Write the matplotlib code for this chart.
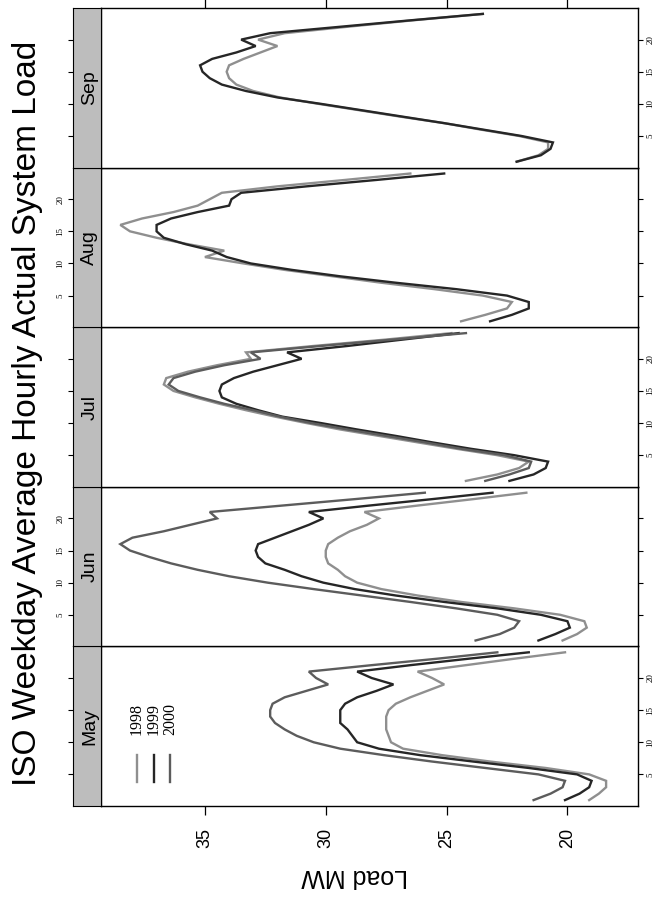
import matplotlib
matplotlib.use('Agg')
import matplotlib.pyplot as plt

plt.rcParams['font.family'] = ['Liberation Sans', 'DejaVu Sans']

title = 'ISO Weekday Average Hourly Actual System Load'
ylabel = 'Load MW'
months = ['May', 'Jun', 'Jul', 'Aug', 'Sep']
years = ['1998', '1999', '2000']
hours = list(range(1, 25))
load_ticks = [20, 25, 30, 35]
hour_ticks = [5, 10, 15, 20]

may_1998 = [19.1, 18.7, 18.4, 18.4, 19.1, 20.9, 23.2, 25.2, 26.8, 27.3, 27.4, 27.5, 27.5, 27.5, 27.4, 27.1, 26.5, 25.8, 25.1, 25.6, 26.2, 24.2, 22.2, 20.1]
may_1999 = [20.1, 19.5, 19.1, 19.0, 19.6, 21.6, 23.9, 26.1, 27.8, 28.7, 28.9, 29.1, 29.4, 29.4, 29.4, 29.2, 28.7, 27.9, 27.2, 28.1, 28.7, 26.5, 24.1, 21.6]
may_2000 = [21.4, 20.7, 20.2, 20.1, 21.2, 23.4, 25.6, 27.6, 29.4, 30.5, 31.2, 31.7, 32.1, 32.3, 32.3, 32.2, 31.7, 30.8, 29.9, 30.4, 30.7, 28.1, 25.4, 22.9]

jun_1998 = [20.2, 19.6, 19.2, 19.3, 20.3, 22.2, 24.4, 26.2, 27.7, 28.7, 29.2, 29.5, 29.9, 30.0, 30.0, 29.9, 29.5, 29.0, 28.3, 27.8, 28.4, 26.2, 23.9, 21.7]
jun_1999 = [21.2, 20.5, 19.9, 20.0, 21.1, 22.9, 25.1, 27.1, 28.8, 30.1, 31.0, 31.7, 32.5, 32.8, 32.9, 32.8, 32.1, 31.4, 30.7, 30.1, 30.7, 28.2, 25.6, 23.1]
jun_2000 = [23.8, 22.8, 22.2, 22.0, 22.9, 24.6, 26.5, 28.5, 30.5, 32.4, 34.0, 35.3, 36.4, 37.3, 38.1, 38.5, 38.0, 36.7, 35.6, 34.5, 34.8, 31.8, 28.8, 25.9]

jul_1998 = [24.2, 22.9, 22.0, 21.6, 22.9, 24.6, 26.2, 27.8, 29.4, 30.8, 32.1, 33.3, 34.4, 35.4, 36.3, 36.7, 36.6, 35.7, 34.5, 33.1, 33.3, 30.5, 27.5, 24.8]
jul_1999 = [22.4, 21.4, 20.9, 20.8, 22.2, 24.0, 25.6, 27.1, 28.7, 30.2, 31.8, 32.8, 33.7, 34.3, 34.4, 34.3, 33.8, 33.0, 32.0, 31.0, 31.6, 29.1, 26.8, 24.5]
jul_2000 = [23.4, 22.4, 21.6, 21.5, 22.6, 24.4, 25.9, 27.5, 29.1, 30.6, 31.9, 33.0, 34.2, 35.2, 36.1, 36.5, 36.3, 35.4, 34.2, 32.7, 33.1, 30.2, 27.2, 24.2]

aug_1998 = [24.4, 23.4, 22.5, 22.3, 23.5, 25.5, 27.7, 29.7, 31.7, 33.4, 35.0, 34.2, 35.7, 37.0, 38.1, 38.5, 37.6, 36.3, 35.3, 34.8, 34.3, 32.0, 29.2, 26.5]
aug_1999 = [23.2, 22.3, 21.6, 21.6, 22.5, 24.6, 27.1, 29.4, 31.4, 33.1, 34.1, 34.7, 35.8, 36.7, 37.0, 37.0, 36.4, 35.3, 34.0, 33.9, 33.5, 30.8, 27.9, 25.1]

sep_1998 = [22.1, 21.2, 20.8, 20.8, 22.0, 23.6, 25.1, 26.9, 28.6, 30.3, 31.9, 33.0, 33.7, 34.0, 34.1, 34.0, 33.4, 32.7, 32.0, 32.8, 31.7, 29.1, 26.4, 23.5]
sep_1999 = [22.1, 21.1, 20.7, 20.6, 21.9, 23.5, 25.1, 26.8, 28.5, 30.2, 32.0, 33.3, 34.3, 34.8, 35.1, 35.2, 34.7, 33.7, 32.9, 33.5, 32.3, 29.4, 26.5, 23.5]

series = {
    'May': {'1998': may_1998, '1999': may_1999, '2000': may_2000},
    'Jun': {'1998': jun_1998, '1999': jun_1999, '2000': jun_2000},
    'Jul': {'1998': jul_1998, '1999': jul_1999, '2000': jul_2000},
    'Aug': {'1998': aug_1998, '1999': aug_1999},
    'Sep': {'1998': sep_1998, '1999': sep_1999},
}
colors = {'1998': '#8f8f8f', '1999': '#262626', '2000': '#5c5c5c'}

W_PX, H_PX = 655, 899
fig = plt.figure(figsize=(W_PX / 100, H_PX / 100), dpi=100)

left = 101 / W_PX
width = 537 / W_PX
sleft = 73 / W_PX
swidth = 28 / W_PX
bottom0 = 1 - 806 / H_PX
ph = (806 - 8) / H_PX / len(months)

for i, m in enumerate(months):
    b = bottom0 + i * ph
    ax = fig.add_axes([left, b, width, ph])
    sax = fig.add_axes([sleft, b, swidth, ph])

    for y, vals in series[m].items():
        ax.plot(vals, hours, color=colors[y], lw=1.7, solid_joinstyle='miter')

    ax.set_xlim(39.30, 17.08)
    ax.set_ylim(0.08, 24.92)
    for s in ax.spines.values():
        s.set_linewidth(1.0)
        s.set_color('black')

    # hour ticks on right
    ax.set_yticks(hour_ticks)
    ax.yaxis.set_ticks_position('right')
    ax.tick_params(axis='y', direction='out', length=3.5, width=0.8,
                   labelright=(i % 2 == 0), labelleft=False,
                   labelsize=6.5, labelrotation=90, pad=2.5)
    for lab in ax.get_yticklabels():
        lab.set_family(['Liberation Serif', 'DejaVu Serif'])
        lab.set_va('center')
        lab.set_ha('left')

    # load ticks
    ax.set_xticks(load_ticks)
    if i == 0:
        ax.tick_params(axis='x', bottom=True, top=False, labelbottom=True,
                       direction='out', length=6.5, width=0.9, pad=9,
                       labelsize=13, labelrotation=90)
        for lab in ax.get_xticklabels():
            lab.set_ha('center')
            lab.set_va('top')
    elif i == len(months) - 1:
        ax.tick_params(axis='x', bottom=False, top=True, labelbottom=False,
                       direction='out', length=6.5, width=0.9)
    else:
        ax.tick_params(axis='x', bottom=False, top=False, labelbottom=False)

    # strip
    sax.set_facecolor('#bdbdbd')
    sax.set_xlim(0, 1)
    sax.set_ylim(0.08, 24.92)
    sax.set_xticks([])
    sax.set_yticks(hour_ticks)
    sax.tick_params(axis='y', direction='out', length=3.5, width=0.8,
                    labelleft=(i % 2 == 1), labelsize=6.5, labelrotation=90, pad=2.5)
    for lab in sax.get_yticklabels():
        lab.set_family(['Liberation Serif', 'DejaVu Serif'])
        lab.set_va('center')
        lab.set_ha('right')
    for s in sax.spines.values():
        s.set_linewidth(0.8)
        s.set_color('black')
    sax.text(0.6, 0.5, m, transform=sax.transAxes, rotation=90,
             ha='center', va='center', fontsize=14, color='black')

    # legend in first panel
    if i == 0:
        for k, y in enumerate(years):
            xf = 0.067 + k * 0.031
            ax.plot([xf, xf], [0.150, 0.320], transform=ax.transAxes,
                    color=colors[y], lw=1.7)
            ax.text(xf, 0.548, y, transform=ax.transAxes, rotation=90,
                    ha='center', va='center', fontsize=11.5,
                    family=['Liberation Serif', 'DejaVu Serif'])

fig.text(28 / W_PX, 1 - 413 / H_PX, title, rotation=90, fontsize=24,
         ha='center', va='center')
fig.text(355 / W_PX, 1 - 876 / H_PX, ylabel, rotation=180, fontsize=18,
         ha='center', va='center')

fig.savefig('out.png', dpi=100)
